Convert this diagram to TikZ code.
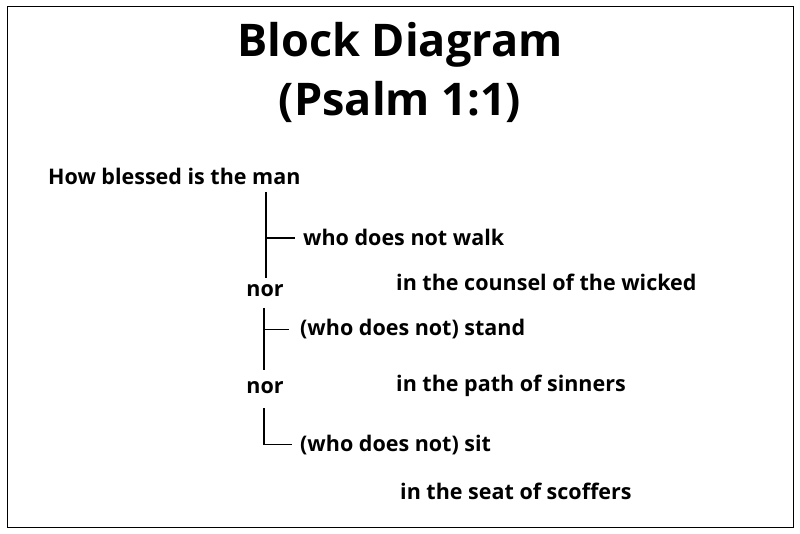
\documentclass[tikz,border=0pt]{standalone}
\usepackage{fontspec}
\setmainfont{Open Sans}
\usetikzlibrary{positioning}
\begin{document}
\begin{tikzpicture}[x=1pt, y=-1pt,
    phrase/.style={anchor=base west, inner sep=0pt, font=\fontsize{21.5}{24}\selectfont\bfseries},
    title/.style={anchor=base, inner sep=0pt, font=\fontsize{45}{50}\selectfont\bfseries},
    link/.style={line width=1.4pt}
]
\useasboundingbox (0,0) rectangle (800,534);
\draw[line width=0.8pt] (7,6) rectangle (793,527);

% Title
\node[title] (head) at (400,57) {Block Diagram};
\node[title] (ref) at (400,116) {(Psalm 1:1)};

% Main clause
\node[phrase] (man) at (48,185) {How blessed is the man};

% Verbs
\node[phrase] (walk) at (303,246) {who does not walk};
\node[phrase] (stand) at (300,336) {(who does not) stand};
\node[phrase] (sit) at (300,451) {(who does not) sit};

% Conjunctions
\node[phrase, anchor=base] (nor1) at (265,297) {nor};
\node[phrase, anchor=base] (nor2) at (265,393) {nor};

% Modifiers
\node[phrase] (counsel) at (396,291) {in the counsel of the wicked};
\node[phrase] (path) at (396,391) {in the path of sinners};
\node[phrase] (seat) at (400,499) {in the seat of scoffers};

% Connectors
\coordinate (t1) at (266,192);
\coordinate (b1) at (266,278);
\coordinate (t2) at (264,308);
\coordinate (b2) at (264,370);
\coordinate (t3) at (264,408);
\draw[link] (t1) -- (b1);
\draw[link] (t1 |- walk.west) -- ++(29,0);
\draw[link] (t2) -- (b2);
\draw[link] (t2 |- stand.west) -- ++(25,0);
\draw[link] (t3) |- ([xshift=-8pt]sit.west);
\end{tikzpicture}
\end{document}
